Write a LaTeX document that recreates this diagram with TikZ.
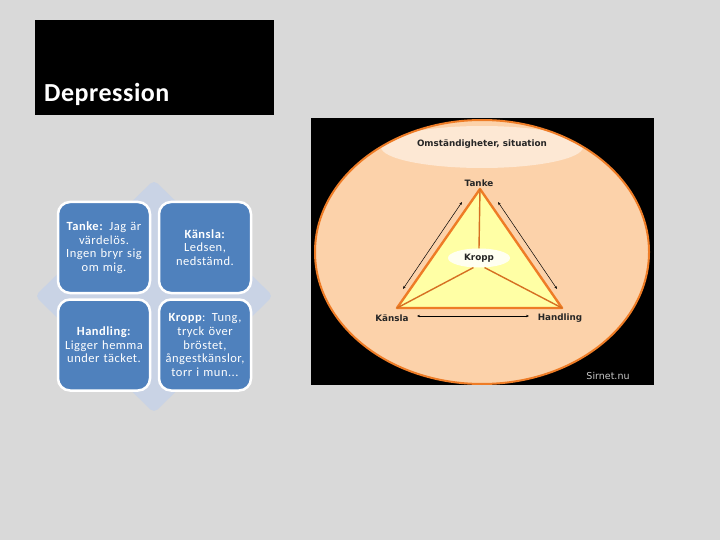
\documentclass[tikz,border=0pt]{standalone}
\usepackage{fontspec}
\setmainfont{Carlito}
\newfontfamily\dejavu{DejaVu Sans}
\newfontfamily\boxfont[LetterSpace=4]{Carlito}
\newfontfamily\titlefont[LetterSpace=2]{Carlito}
\usetikzlibrary{arrows.meta,shapes.geometric}
\definecolor{bggray}{RGB}{217,217,217}
\definecolor{diagray}{RGB}{201,211,229}
\definecolor{boxblue}{RGB}{79,129,189}
\definecolor{peach}{RGB}{252,210,170}
\definecolor{lightpeach}{RGB}{253,232,212}
\definecolor{orng}{RGB}{238,124,38}
\definecolor{lyellow}{RGB}{255,255,165}
\definecolor{wmark}{RGB}{200,200,200}
\tikzset{%
    qbox/.style={rectangle, rounded corners=12pt, fill=boxblue, draw=white, line width=2.5pt,
        minimum width=92pt, minimum height=91pt, text width=88pt, align=center, text=white,
        font=\boxfont\fontsize{12.5pt}{13.6pt}\selectfont, inner sep=1pt},
    lab/.style={font=\dejavu\bfseries\fontsize{8.8pt}{10pt}\selectfont, text=black!85, inner sep=1pt},
    tri/.style={draw=orng, line width=2.4pt, line join=round, fill=lyellow},
    spk/.style={draw=orng!90!black, line width=1.4pt},
    dar/.style={line width=0.5pt, {Stealth[length=3pt,width=2.4pt]}-{Stealth[length=3pt,width=2.4pt]}},
}
\begin{document}
\begin{tikzpicture}[x=1pt,y=-1pt]
    \fill[bggray] (0,0) rectangle (720,540);
    \useasboundingbox (0,0) rectangle (720,540);
    % title
    \fill[black] (35,20) rectangle (274,115);
    \node[anchor=base west, text=white, font=\titlefont\bfseries\fontsize{26pt}{30pt}\selectfont, inner sep=0pt]
        (title) at (44,102) {Depression};
    % left: diamond and four boxes
    \fill[diagray, rounded corners=5pt] (154,180)--(273,296)--(154,413)--(35,296)--cycle;
    \node[qbox] (tanke) at (104,247.5) {\textbf{Tanke:} Jag är\\värdelös.\\Ingen bryr sig\\om mig.};
    \node[qbox] (kansla) at (205,247.5) {\textbf{Känsla:}\\Ledsen,\\nedstämd.};
    \node[qbox] (handl) at (104,345) {\textbf{Handling:}\\Ligger hemma\\under täcket.};
    \node[qbox] (kropp) at (205,345) {\textbf{Kropp}: Tung,\\tryck över\\bröstet,\\ångestkänslor,\\torr i mun...};
    % right: picture
    \fill[black] (311,118) rectangle (654,385);
    \fill[peach] (482,252) ellipse[x radius=167, y radius=132];
    \begin{scope}
        \clip (482,252) ellipse[x radius=167, y radius=132];
        \fill[lightpeach] (482,147) ellipse[x radius=101, y radius=21];
    \end{scope}
    \draw[orng, line width=2pt] (482,252) ellipse[x radius=167, y radius=132];
    \node[lab] (omst) at (482,144) {Omständigheter, situation};
    \coordinate (T) at (480,189);
    \coordinate (K) at (397,308);
    \coordinate (H) at (562,308);
    \draw[tri] (T)--(H)--(K)--cycle;
    \node[ellipse, fill=white, fill opacity=0.85, minimum width=62pt, minimum height=19pt, inner sep=0pt]
        (mid) at (479,258) {};
    \draw[spk] (T)--(mid.north);
    \draw[spk] (K)--(mid.-120);
    \draw[spk] (H)--(mid.-60);
    \node[lab] at (mid) {Kropp};
    \node[lab] (ltanke) at (479,183) {Tanke};
    \node[lab] (lkansla) at (392,318) {Känsla};
    \node[lab] (lhandl) at (560,318) {Handling};
    \coordinate (a1) at (462,202);
    \coordinate (a2) at (403,289);
    \coordinate (b1) at (498,202);
    \coordinate (b2) at (557,289);
    \draw[dar] (a1)--(a2);
    \draw[dar] (b1)--(b2);
    \coordinate (c1) at (417,316);
    \coordinate (c2) at (529,316);
    \draw[dar] (c1)--(c2);
    \node[text=wmark, font=\dejavu\fontsize{9.5pt}{10pt}\selectfont] (src) at (608,376) {Sirnet.nu};
\end{tikzpicture}
\end{document}
